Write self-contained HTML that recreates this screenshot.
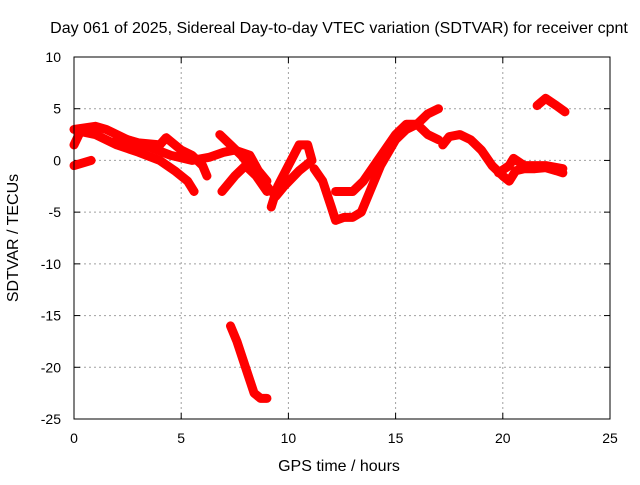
<!DOCTYPE html>
<html><head><meta charset="utf-8"><style>
body{margin:0;background:#fff;}
svg{font-family:"Liberation Sans",sans-serif;}
</style></head><body>
<svg id="chart" width="640" height="480" xmlns="http://www.w3.org/2000/svg">
<rect width="640" height="480" fill="#fff"/>
<text x="339" y="33" font-size="16" text-anchor="middle">Day 061 of 2025, Sidereal Day-to-day VTEC variation (SDTVAR) for receiver cpnt</text>
<text x="339" y="471" font-size="16" text-anchor="middle">GPS time / hours</text>
<text transform="translate(18,238) rotate(-90)" font-size="16" text-anchor="middle">SDTVAR / TECUs</text>
<g id="grid"></g><g id="ticks"></g><g id="series"></g>
<rect x="74" y="57" width="536" height="362" fill="none" stroke="#000" stroke-width="1"/>
</svg>
<script>
const xTicks=[0,5,10,15,20,25];
const yTicks=[10,5,0,-5,-10,-15,-20,-25];
const trackA=[[0,1.5],[0.3,2.8],[1,2.5],[2,1.5],[3,0.8],[4,0],[4.7,-1],[5.3,-2],[5.6,-3]];
const trackB=[[0,3],[1,3.3],[1.5,3],[2.5,2],[3.5,1.3],[4.5,0.5],[5.5,0],[6.3,0.3],[7,0.8],[7.5,1],[8.2,0.5],[8.6,-1],[9,-2]];
const trackC=[[0,-0.5],[0.8,0]];
const trackD=[[2,2.3],[3,1.7],[4,1.5],[4.3,2.2],[5,1],[5.5,0.5],[6,-0.5],[6.2,-1.5]];
const trackE=[[6.8,2.5],[7.3,1.5],[7.8,0.5],[8.3,-0.8],[8.8,-2],[9.2,-3]];
const trackF=[[6.9,-3],[7.5,-1.5],[8,-0.5],[8.5,-1.5],[9,-3]];
const trackG=[[9.2,-4.5],[9.5,-2.5],[10,-0.5],[10.5,1.5],[10.9,1.5],[11.1,0],[10.5,-1],[9.8,-2.5],[9.4,-3.5]];
const trackH=[[11.2,-0.8],[11.6,-2],[12,-4.5],[12.2,-5.8],[12.6,-5.5],[13,-5.5],[13.4,-5],[13.8,-3],[14.3,-0.5],[15,2],[15.5,3],[16,3.5],[16.5,4.5],[17,5]];
const trackI=[[12.2,-3],[13,-3],[13.5,-2],[14,-0.5],[14.5,1],[15,2.5],[15.5,3.5],[16,3.5],[16.5,2.5],[17,2]];
const trackJ=[[17.2,1.5],[17.5,2.3],[18,2.5],[18.5,2],[19,1],[19.5,-0.5],[20,-1.5],[20.3,-2],[20.6,-1],[21,-0.8],[21.5,-0.8],[22,-0.7],[22.5,-1],[22.8,-1.2]];
const trackK=[[19.8,-1.2],[20.3,-0.5],[20.5,0.2],[21,-0.5],[22,-0.5],[22.8,-0.8]];
const trackL=[[21.6,5.3],[22,6],[22.5,5.3],[22.9,4.7]];
const trackM=[[7.3,-16],[7.6,-17.5],[8,-20],[8.4,-22.5],[8.7,-23],[9,-23]];
const tracks=[trackA,trackB,trackC,trackD,trackE,trackF,trackG,trackH,trackI,trackJ,trackK,trackL,trackM];
const X=h=>74+(h-0)*536/25;
const Y=v=>57+(10-v)*362/35;
const NS="http://www.w3.org/2000/svg";
const mk=(t,a,p)=>{const e=document.createElementNS(NS,t);for(const k in a)e.setAttribute(k,a[k]);p.appendChild(e);return e;};
const grid=document.getElementById('grid'),ticks=document.getElementById('ticks'),ser=document.getElementById('series');
xTicks.forEach(t=>{
  const x=X(t);
  if(t>0&&t<25){const g=mk('line',{x1:x,x2:x,y1:57,y2:419,stroke:'#a0a0a0','stroke-dasharray':'2,3'},grid);
  
  }
  mk('line',{x1:x,x2:x,y1:419,y2:413,stroke:'#000'},ticks);
  mk('line',{x1:x,x2:x,y1:57,y2:63,stroke:'#000'},ticks);
  const l=mk('text',{x:x,y:443,'font-size':14,'text-anchor':'middle'},ticks);l.textContent=t;
  
  
});
yTicks.forEach(t=>{
  const y=Y(t);
  if(t<10&&t>-25){const g=mk('line',{x1:74,x2:610,y1:y,y2:y,stroke:'#a0a0a0','stroke-dasharray':'2,3'},grid);
  
  }
  mk('line',{x1:74,x2:80,y1:y,y2:y,stroke:'#000'},ticks);
  mk('line',{x1:604,x2:610,y1:y,y2:y,stroke:'#000'},ticks);
  const l=mk('text',{x:61,y:y+5,'font-size':14,'text-anchor':'end'},ticks);l.textContent=t;
  
  
});
tracks.forEach(tr=>{
  const p=mk('polyline',{points:tr.map(d=>X(d[0])+','+Y(d[1])).join(' '),fill:'none',stroke:'#ff0000','stroke-width':9,'stroke-linejoin':'round','stroke-linecap':'round'},ser);
  
  
});
</script>
</body></html>
